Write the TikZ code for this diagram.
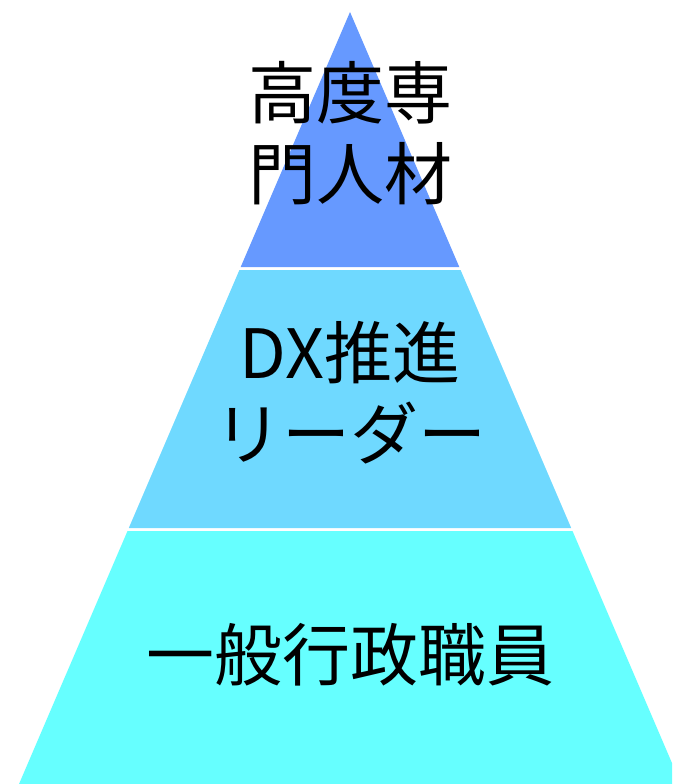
\documentclass[tikz,border=0pt]{standalone}
\usepackage{fontspec}
\newfontfamily\jpfont{Noto Sans CJK JP}
\definecolor{topc}{HTML}{6699FF}
\definecolor{midc}{HTML}{6FD9FF}
\definecolor{botc}{HTML}{66FFFF}
\begin{document}
\begin{tikzpicture}[x=1pt,y=-1pt,
  lbl/.style={anchor=base,inner sep=0pt,font=\jpfont\fontsize{68}{80}\selectfont,text=black}]
\useasboundingbox (0,0) rectangle (672,784);
\clip (0,0) rectangle (672,784);
\fill[topc] (350,12) -- (459.3,267) -- (240.7,267) -- cycle;
\fill[midc] (239.4,270) -- (460.6,270) -- (571.2,528) -- (128.8,528) -- cycle;
\fill[botc] (127.5,531) -- (572.5,531) -- (681,784) -- (19,784) -- cycle;
\node[lbl] (t1) at (350,118) {高度専};
\node[lbl] (t2) at (350,199) {門人材};
\node[lbl] (m1) at (350,378) {DX推進};
\node[lbl] (m2) at (350,459) {リーダー};
\node[lbl] (b1) at (350,680) {一般行政職員};
\end{tikzpicture}
\end{document}
